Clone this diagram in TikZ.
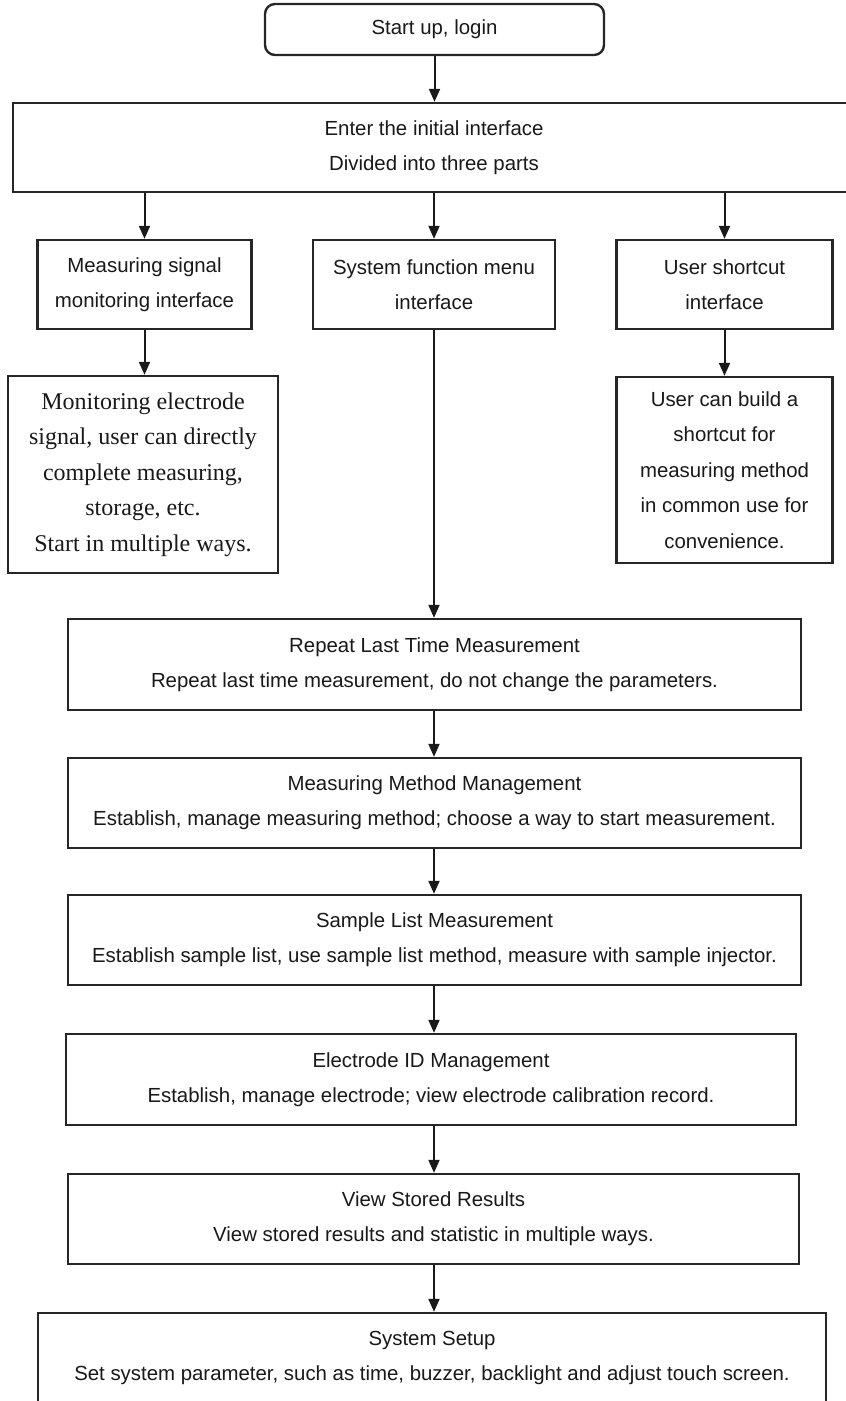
\documentclass[tikz,border=0pt]{standalone}
\usepackage{fontspec}
\setmainfont{Liberation Sans}
\newfontfamily\serifcustom{Liberation Serif}
\usetikzlibrary{arrows.meta}
\tikzset{
  box/.style={draw=black!85, line width=2.4pt, fill=white, align=center, inner sep=0pt,
    font=\fontsize{20.4}{35}\selectfont, text=black!90},
  serifbox/.style={box, font=\serifcustom\fontsize{24}{35.5}\selectfont},
  arr/.style={draw=black!90, line width=2pt, -{Triangle[length=13pt,width=11pt]}},
  plain/.style={draw=black!90, line width=2pt}
}
\begin{document}
\begin{tikzpicture}[x=1pt,y=-1pt]
\useasboundingbox (0,0) rectangle (846,1401);
\node[box, rounded corners=10pt, minimum width=339pt, minimum height=51pt] (start) at (434.5,29.5) {Start up, login};
\node[box, minimum width=842pt, minimum height=89pt] (enter) at (434,147.5) {Enter the initial interface\\Divided into three parts};
\node[box, minimum width=214pt, minimum height=89pt] (msm) at (144.5,284.5) {Measuring signal\\monitoring interface};
\node[box, minimum width=242pt, minimum height=89pt] (sfm) at (434,284.5) {System function menu\\interface};
\node[box, minimum width=216pt, minimum height=89pt] (usi) at (724.5,284.5) {User shortcut\\interface};
\node[serifbox, minimum width=270pt, minimum height=197pt] (mon) at (143,474.5) {Monitoring electrode\\signal, user can directly\\complete measuring,\\storage, etc.\\Start in multiple ways.};
\node[box, minimum width=216pt, minimum height=186pt, font=\fontsize{20.4}{35.5}\selectfont] (ubuild) at (724.5,470) {User can build a\\shortcut for\\measuring method\\in common use for\\convenience.};
\node[box, minimum width=733pt, minimum height=91pt] (rep) at (434.5,664.5) {Repeat Last Time Measurement\\Repeat last time measurement, do not change the parameters.};
\node[box, minimum width=733pt, minimum height=90pt] (meth) at (434.5,803) {Measuring Method Management\\Establish, manage measuring method; choose a way to start measurement.};
\node[box, minimum width=733pt, minimum height=90pt] (samp) at (434.5,940) {Sample List Measurement\\Establish sample list, use sample list method, measure with sample injector.};
\node[box, minimum width=730pt, minimum height=91pt] (elec) at (431,1079.5) {Electrode ID Management\\Establish, manage electrode; view electrode calibration record.};
\node[box, minimum width=731pt, minimum height=90pt] (view) at (433.5,1219) {View Stored Results\\View stored results and statistic in multiple ways.};
\node[box, minimum width=788pt, minimum height=90pt] (setup) at (432,1358) {System Setup\\Set system parameter, such as time, buzzer, backlight and adjust touch screen.};

\draw[arr] (start.south) -- (start.south |- enter.north);
\draw[arr] (enter.south -| msm.north) -- (msm.north);
\draw[arr] (enter.south -| sfm.north) -- (sfm.north);
\draw[arr] (enter.south -| usi.north) -- (usi.north);
\draw[arr] (msm.south) -- (msm.south |- mon.north);
\draw[arr] (usi.south) -- (usi.south |- ubuild.north);
\draw[arr] (sfm.south) -- (sfm.south |- rep.north);
\draw[arr] (rep.south -| sfm.south) -- (meth.north -| sfm.south);
\draw[arr] (meth.south -| sfm.south) -- (samp.north -| sfm.south);
\draw[arr] (samp.south -| sfm.south) -- (elec.north -| sfm.south);
\draw[arr] (elec.south -| sfm.south) -- (view.north -| sfm.south);
\draw[arr] (view.south -| sfm.south) -- (setup.north -| sfm.south);
\end{tikzpicture}
\end{document}
